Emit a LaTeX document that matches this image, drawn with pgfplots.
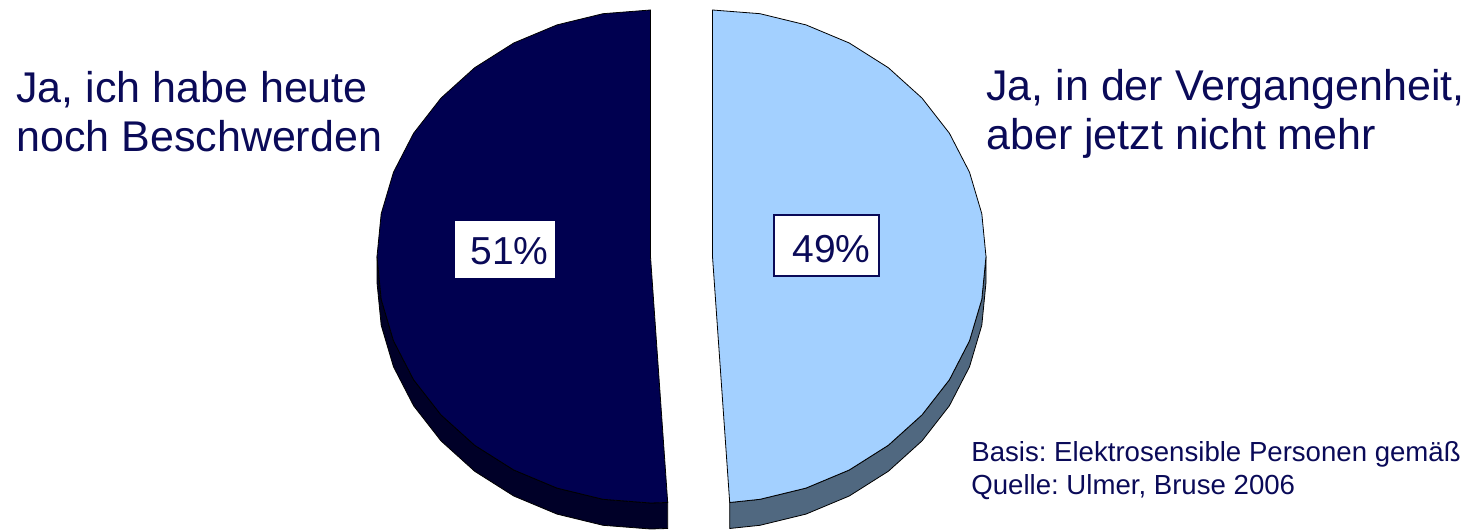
\documentclass[border=0pt]{standalone}
\usepackage{fontspec}
\setmainfont{Liberation Sans}
\usepackage{pgfplots}
\pgfplotsset{compat=1.18}
\definecolor{darktop}{RGB}{0,0,80}
\definecolor{darkside}{RGB}{0,0,40}
\definecolor{lighttop}{RGB}{163,208,255}
\definecolor{lightside}{RGB}{80,104,128}
\definecolor{textnavy}{RGB}{10,10,88}
\frenchspacing
\begin{document}
\begin{tikzpicture}
\path[use as bounding box] (0,0) rectangle (737pt,265pt);
\begin{axis}[at={(0,0)}, anchor=south west, width=737pt, height=265pt,
  scale only axis, xmin=0, xmax=1474, ymin=0, ymax=530, hide axis, clip=false]
% dark slice (51%) side wall
\addplot[fill=darkside, draw=black, line width=0.4pt, mark=none] coordinates {
(377.0,273.5) (381.2,230.7) (393.5,189.2) (413.6,150.25) (441.0,115.1) (474.7,84.7)
(513.75,60.0) (557.0,41.9) (603.0,30.7) (650.5,27.0) (667.7,27.5)
(667.7,1.5) (650.5,1.0) (603.0,4.7) (557.0,15.9) (513.75,34.0) (474.7,58.7)
(441.0,89.1) (413.6,124.25) (393.5,163.2) (381.2,204.7) (377.0,247.5)} -- cycle;
% dark slice top face
\addplot[fill=darktop, draw=black, line width=0.4pt, mark=none] coordinates {
(650.5,273.5) (650.5,520) (603.0,516.3) (557.0,505.1) (513.75,487.0) (474.7,462.3)
(441.0,431.9) (413.6,396.75) (393.5,357.8) (381.2,316.3) (377.0,273.5)
(381.2,230.7) (393.5,189.2) (413.6,150.25) (441.0,115.1) (474.7,84.7)
(513.75,60.0) (557.0,41.9) (603.0,30.7) (650.5,27.0) (667.7,27.5)} -- cycle;
% light slice (49%) side wall
\addplot[fill=lightside, draw=black, line width=0.4pt, mark=none] coordinates {
(986.0,273.5) (981.8,230.7) (969.5,189.2) (949.4,150.25) (922.0,115.1) (888.3,84.7)
(849.25,60.0) (806.0,41.9) (760.0,30.7) (729.7,27.5)
(729.7,1.5) (760.0,4.7) (806.0,15.9) (849.25,34.0) (888.3,58.7) (922.0,89.1)
(949.4,124.25) (969.5,163.2) (981.8,204.7) (986.0,247.5)} -- cycle;
% light slice top face
\addplot[fill=lighttop, draw=black, line width=0.4pt, mark=none] coordinates {
(712.5,273.5) (712.5,520) (760.0,516.3) (806.0,505.1) (849.25,487.0) (888.3,462.3)
(922.0,431.9) (949.4,396.75) (969.5,357.8) (981.8,316.3) (986.0,273.5)
(981.8,230.7) (969.5,189.2) (949.4,150.25) (922.0,115.1) (888.3,84.7)
(849.25,60.0) (806.0,41.9) (760.0,30.7) (729.7,27.5)} -- cycle;
% labels
\node[anchor=base west, text=textnavy, font=\fontsize{21.5}{25}\selectfont, inner sep=0] at (axis cs:16,427) {Ja, ich habe heute};
\node[anchor=base west, text=textnavy, font=\fontsize{21.5}{25}\selectfont, inner sep=0] at (axis cs:16,378) {noch Beschwerden};
\node[anchor=base west, text=textnavy, font=\fontsize{21.5}{25}\selectfont, inner sep=0] at (axis cs:986,429) {Ja, in der Vergangenheit,};
\node[anchor=base west, text=textnavy, font=\fontsize{21.5}{25}\selectfont, inner sep=0] at (axis cs:986,380) {aber jetzt nicht mehr};
% percentage boxes
\node[fill=white, inner sep=0, minimum width=50pt, minimum height=28.5pt] at (axis cs:505,280.5) {};
\node[anchor=base west, text=textnavy, font=\fontsize{19.5}{23}\selectfont, inner sep=0] at (axis cs:470,265) {51\%};
\node[fill=white, draw=textnavy, line width=0.9pt, inner sep=0, minimum width=52.5pt, minimum height=30.5pt] at (axis cs:826.5,284.5) {};
\node[anchor=base west, text=textnavy, font=\fontsize{19.5}{23}\selectfont, inner sep=0] at (axis cs:792,267) {49\%};
% footnote
\node[anchor=base west, text=textnavy, font=\fontsize{13.8}{16}\selectfont, inner sep=0] at (axis cs:971,68) {Basis: Elektrosensible Personen gemäß};
\node[anchor=base west, text=textnavy, font=\fontsize{13.8}{16}\selectfont, inner sep=0] at (axis cs:971,35) {Quelle: Ulmer, Bruse 2006};
\end{axis}
\end{tikzpicture}
\end{document}
